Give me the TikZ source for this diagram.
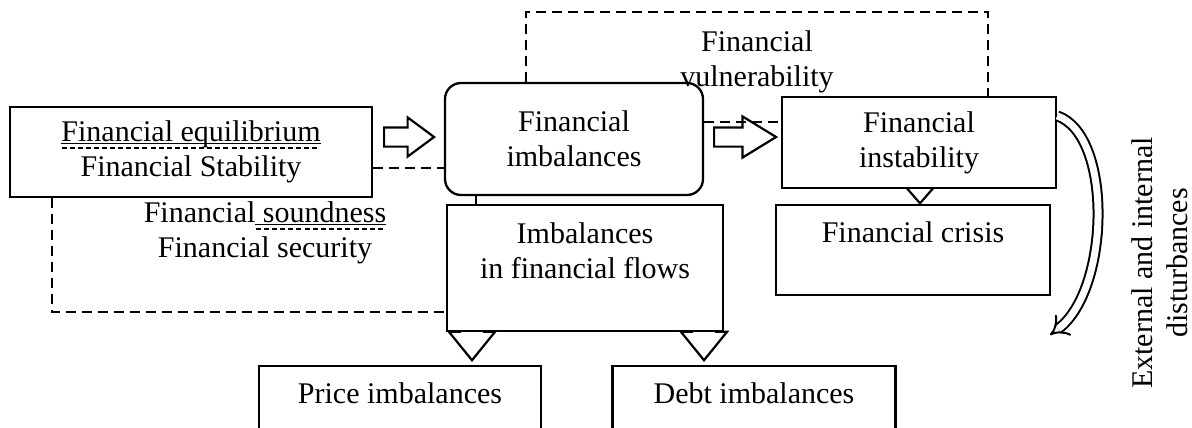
\documentclass[tikz,border=0pt]{standalone}
\usepackage{fontspec}
\setmainfont{Liberation Serif}
\usetikzlibrary{shapes.arrows,arrows.meta,calc}

% word with a solid and a dashed mark under it
\newcommand{\markword}[1]{%
  \setbox0\hbox{#1}%
  \rlap{\raisebox{-2.5pt}[0pt][0pt]{\rule{\wd0}{1pt}}}%
  \rlap{\raisebox{-7pt}[0pt][0pt]{\hbox to \wd0{\xleaders\hbox to 8pt{\rule{5pt}{1.5pt}\hfil}\hfill}}}%
  \box0}

\tikzset{
  txt/.style={align=center, font=\fontsize{30}{35}\selectfont},
  box/.style={draw, line width=2.3pt, fill=white, inner sep=0pt},
  dline/.style={line width=2pt, dash pattern=on 10pt off 6pt},
  hollow/.style={single arrow, draw, fill=white, line width=2.2pt},
}

\begin{document}
\begin{tikzpicture}[x=1pt, y=-1pt, every node/.style={txt}]
	\useasboundingbox (0,0) rectangle (1192,428);

	%arrow heads half hidden behind the boxes
	\node[hollow, shape border rotate=270, anchor=tip, minimum height=40, inner sep=11pt,
		single arrow head extend=11, single arrow tip angle=78] (arrP) at (472,362) {};
	\node[hollow, shape border rotate=270, anchor=tip, minimum height=40, inner sep=11pt,
		single arrow head extend=11, single arrow tip angle=78] (arrD) at (704,362) {};
	\node[hollow, shape border rotate=270, anchor=tip, minimum height=40, inner sep=8pt,
		single arrow head extend=7, single arrow tip angle=82] (arrC) at (920,205) {};

	%boxes
	\node[box, minimum width=362, minimum height=90] (stab) at (191,152)
		{\markword{Financial equilibrium}\\Financial Stability};
	\node (sound) at (265,233) {Financial\markword{ soundness}\\Financial security};
	\node[box, rounded corners=16, minimum width=258, minimum height=112] (imb) at (574,139)
		{Financial\\imbalances};
	\node[box, minimum width=276, minimum height=126] (flows) at (585,268)
		{Imbalances\\in financial flows\\\mbox{}};
	\node[box, minimum width=274, minimum height=91] (inst) at (919,142.5)
		{Financial\\instability};
	\node[box, minimum width=274, minimum height=90] (crisis) at (913,250)
		{Financial crisis\\\mbox{}};
	\node[box, minimum width=282, minimum height=90] (price) at (400,411)
		{Price imbalances\\\mbox{}};
	\node[box, minimum width=283, minimum height=90] (debt) at (754,411)
		{Debt imbalances\\\mbox{}};
	\node (vuln) at (757,62) {Financial\\vulnerability};
	\node[rotate=90] (dist) at (1160,263) {External and internal\\disturbances};

	%block arrows
	\node[hollow, anchor=tail, minimum height=50, inner sep=8.5pt,
		single arrow head extend=10, single arrow tip angle=73] (arrA) at (383,137) {};
	\node[hollow, anchor=tail, minimum height=62, inner sep=8.5pt,
		single arrow head extend=11, single arrow tip angle=63] (arrB) at (713,137) {};

	%dashed frames
	\coordinate (loopL) at (52,312);
	\draw[dline] (stab.south -| loopL) -- (loopL) -- (loopL -| flows.west);
	\coordinate (topL) at (526,12);
	\coordinate (topR) at (988,12);
	\draw[dline] (imb.north -| topL) -- (topL) -- (topR) -- (inst.north -| topR);
	\draw[dline] ($(stab.east)+(0,16)$) coordinate (s1) -- (s1 -| imb.west);
	\draw[dline] ($(imb.east)+(0,-17)$) coordinate (s2) -- (s2 -| inst.west);

	%link imbalances -- flows
	\coordinate (link) at (476,0);
	\draw[line width=2.3pt] (imb.south -| link) -- (flows.north -| link);

	%disturbances
	\coordinate (distEnd) at (1050,335);
	\draw[line width=2pt, double=white, double distance=7pt, -{Implies}]
		($(inst.north east)+(0,20)$) .. controls (1113,135) and (1110,290) .. (distEnd);
\end{tikzpicture}
\end{document}
